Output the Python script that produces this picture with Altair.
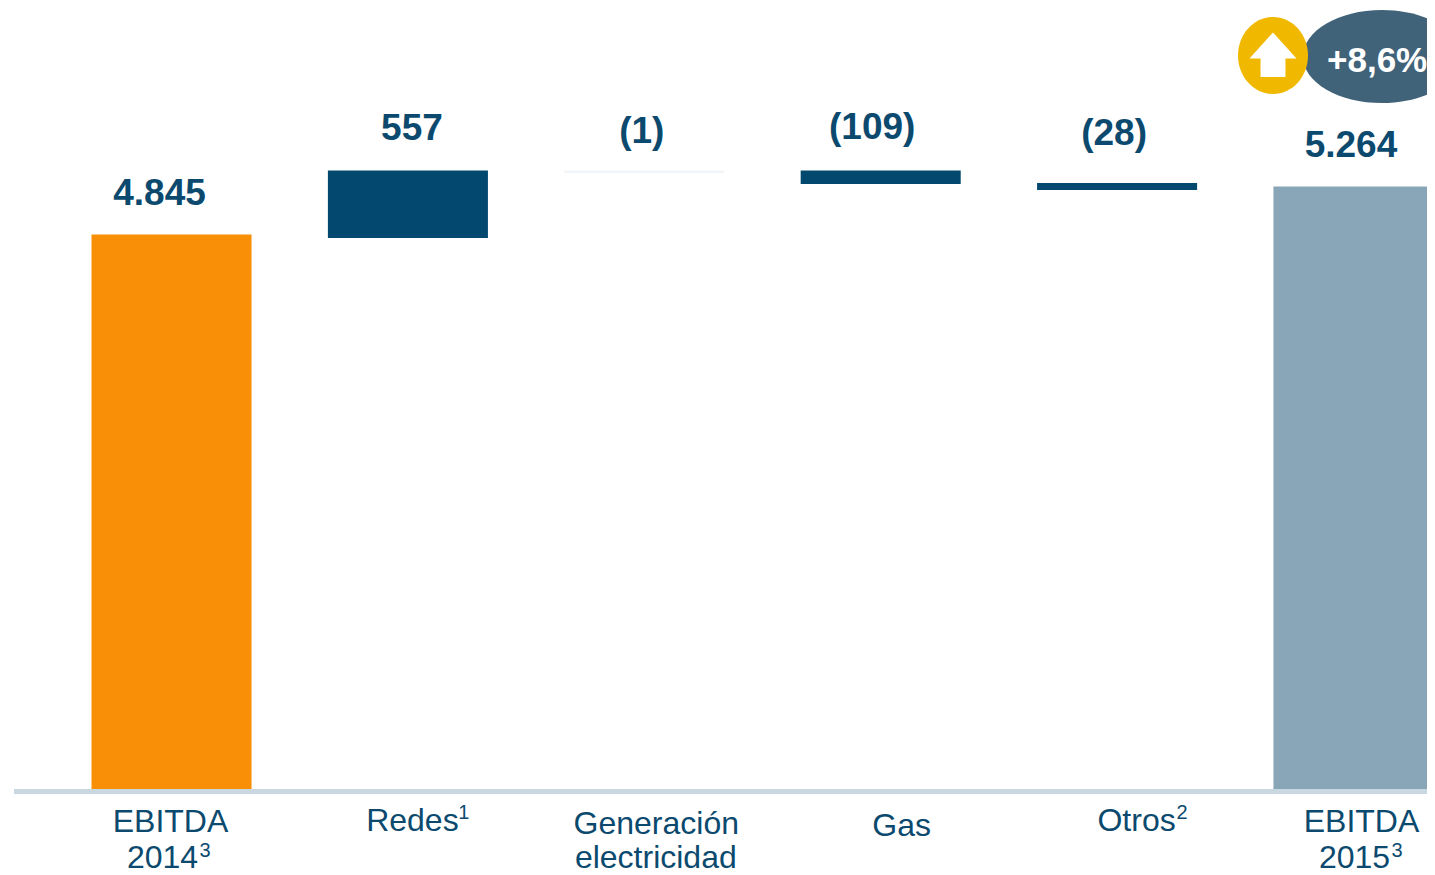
import altair as alt
import pandas as pd

# ---- data ----
categories = ["EBITDA 2014", "Redes", "Generación electricidad", "Gas", "Otros", "EBITDA 2015"]
bar_low = [0, 4815, 5381, 5285, 5233, 0]
bar_high = [4845, 5403, 5403, 5403, 5294, 5264]
value_labels = ["4.845", "557", "(1)", "(109)", "(28)", "5.264"]
kinds = ["a2014", "step", "tenue", "step", "step", "a2015"]

# ---- style / layout constants ----
BLUE = "#03496f"
TEXT = "#0b4a6e"
W, H = 1419, 782
PX_PER_UNIT = 0.11466
value_dx = [-12, 4, -2.5, -8.5, -3, -2.5]
value_dy = [-40.5, -41.5, -38.5, -42.5, -49, -40]

df = pd.DataFrame({"cat": categories, "low": bar_low, "high": bar_high, "kind": kinds, "label": value_labels})

x_scale = alt.Scale(domain=categories, range=[83.5, 1425.5], paddingInner=0.323, paddingOuter=0)
y_scale = alt.Scale(domain=[0, H / PX_PER_UNIT], nice=False, zero=False)
X = alt.X("cat:N", scale=x_scale, axis=None, sort=categories)

bars = alt.Chart(df).mark_bar(cornerRadius=0).encode(
    x=X,
    y=alt.Y("low:Q", scale=y_scale, axis=None),
    y2="high:Q",
    color=alt.Color(
        "kind:N",
        legend=None,
        scale=alt.Scale(
            domain=["a2014", "step", "tenue", "a2015"],
            range=["#f98e07", BLUE, "#f1f5f7", "#88a6b8"],
        ),
    ),
)

axis_line = alt.Chart(pd.DataFrame({"v": [0]})).mark_rule(color="#c9d7e1", strokeWidth=5, yOffset=1.5).encode(
    y=alt.Y("v:Q", scale=y_scale, axis=None),
    x=alt.value(6),
    x2=alt.value(W),
)

layers = [bars, axis_line]

# value labels above the bars
for i, row in df.iterrows():
    layers.append(
        alt.Chart(df.iloc[[i]]).mark_text(
            font="Liberation Sans", fontSize=37, fontWeight="bold", color=TEXT,
            baseline="middle", dx=value_dx[i], dy=value_dy[i],
        ).encode(x=X, y=alt.Y("high:Q", scale=y_scale, axis=None), text="label:N")
    )

# category labels: (category, text, dx from band centre, baseline y in chart px, font size)
cat_labels = [
    ("EBITDA 2014", "EBITDA", -1, 824, 32),
    ("EBITDA 2014", "2014", -9, 860, 32),
    ("EBITDA 2014", "3", 33.5, 849, 20),
    ("Redes", "Redes", 4.5, 823, 32),
    ("Redes", "1", 56, 811, 20),
    ("Generación electricidad", "Generación", 12, 826, 32),
    ("Generación electricidad", "electricidad", 11.5, 860, 32),
    ("Gas", "Gas", 21, 828, 32),
    ("Otros", "Otros", 19.5, 823, 32),
    ("Otros", "2", 65, 811, 20),
    ("EBITDA 2015", "EBITDA", 8, 824, 32),
    ("EBITDA 2015", "2015", 1, 860, 32),
    ("EBITDA 2015", "3", 43.5, 849, 20),
]
for cat, txt, dx, ypx, size in cat_labels:
    layers.append(
        alt.Chart(pd.DataFrame({"cat": [cat], "t": [txt]})).mark_text(
            font="Liberation Sans", fontSize=size, color=TEXT, baseline="alphabetic", dx=dx,
        ).encode(x=X, y=alt.value(ypx), text="t:N")
    )

# growth badge
badge = pd.DataFrame({"a": [0]})
ellipse_path = "M-1,0 A1,0.59 0 1,1 1,0 A1,0.59 0 1,1 -1,0 Z"
circle_path = "M-1,0 A1,1.1 0 1,1 1,0 A1,1.1 0 1,1 -1,0 Z"
arrow_path = "M0,-1 L1,0.11 L0.53,0.11 L0.53,0.89 L-0.53,0.89 L-0.53,0.11 L-1,0.11 Z"
layers.append(alt.Chart(badge).mark_point(shape=ellipse_path, filled=True, color="#41637a", opacity=1, size=158**2, strokeWidth=0).encode(
    x=alt.value(1374), y=alt.value(48.5)))
layers.append(alt.Chart(badge).mark_point(shape=circle_path, filled=True, color="#f0b900", opacity=1, size=70**2, strokeWidth=0).encode(
    x=alt.value(1265), y=alt.value(47.5)))
layers.append(alt.Chart(badge).mark_point(shape=arrow_path, filled=True, color="#ffffff", opacity=1, size=47**2, strokeWidth=0).encode(
    x=alt.value(1265), y=alt.value(48)))
layers.append(alt.Chart(pd.DataFrame({"t": ["+8,6%"]})).mark_text(
    font="Liberation Sans", fontSize=35, fontWeight="bold", color="#ffffff", baseline="middle", align="left",
).encode(x=alt.value(1319), y=alt.value(53), text="t:N"))

chart = alt.layer(*layers).properties(
    width=W, height=H,
    padding={"left": 0, "top": 0, "right": 0, "bottom": 85},
    autosize=alt.AutoSizeParams(type="none"),
    background="#ffffff",
).configure_view(stroke=None)

chart.save("out.html", embed_options={"renderer": "svg", "actions": False})
